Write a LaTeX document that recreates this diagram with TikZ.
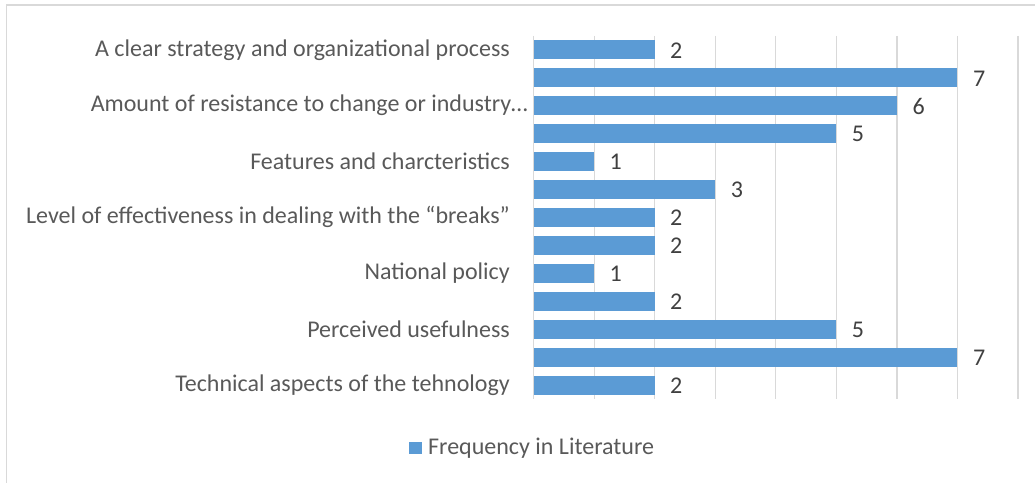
\documentclass[tikz,border=0pt]{standalone}
\usepackage{fontspec}
\setmainfont{Carlito}
\usepackage{xcolor}
\usepackage{tikz}
\definecolor{barblue}{RGB}{91, 155, 213}
\definecolor{gridgray}{RGB}{217, 217, 217}
\definecolor{labgray}{RGB}{89, 89, 89}
\definecolor{numgray}{RGB}{64, 64, 64}

\begin{document}
\begin{tikzpicture}[x = 1pt, y = -1pt,
    catlab/.style = {anchor = east, inner sep = 0pt, text = labgray, font = \fontsize{24}{28}\selectfont},
    numlab/.style = {anchor = west, inner sep = 0pt, text = numgray, font = \fontsize{24}{28}\selectfont},
    bar/.style = {fill = barblue, draw = none}]
			\useasboundingbox (0,0) rectangle (1035,482);
			\draw[gridgray, line width = 1.5pt] (6.6,498) -- (6.6,5) -- (1050,5);
			% gridlines
			\foreach \gx in {533.5, 594.1, 654.6, 715.2, 775.7, 836.3, 896.9, 957.4, 1018}
				\draw[gridgray, line width = 1.2pt] (\gx,35.8) -- (\gx,398.9);
			% bars, top to bottom
			\fill[bar] (533.5,40.3) rectangle (654.6,59.3);
			\fill[bar] (533.5,68.2) rectangle (957.4,87.2);
			\fill[bar] (533.5,96.1) rectangle (896.9,115.1);
			\fill[bar] (533.5,124.1) rectangle (836.3,143.1);
			\fill[bar] (533.5,152.0) rectangle (594.1,171.0);
			\fill[bar] (533.5,179.9) rectangle (715.2,198.9);
			\fill[bar] (533.5,207.9) rectangle (654.6,226.9);
			\fill[bar] (533.5,235.8) rectangle (654.6,254.8);
			\fill[bar] (533.5,263.7) rectangle (594.1,282.7);
			\fill[bar] (533.5,291.7) rectangle (654.6,310.7);
			\fill[bar] (533.5,319.6) rectangle (836.3,338.6);
			\fill[bar] (533.5,347.5) rectangle (957.4,366.5);
			\fill[bar] (533.5,375.5) rectangle (654.6,394.5);
			% values
			\node (v1) at (670,50.5) [numlab] {2};
			\node (v2) at (972.8,78.4) [numlab] {7};
			\node (v3) at (912.3,106.3) [numlab] {6};
			\node (v4) at (851.7,134.3) [numlab] {5};
			\node (v5) at (609.5,162.2) [numlab] {1};
			\node (v6) at (730.6,190.1) [numlab] {3};
			\node (v7) at (670,218.1) [numlab] {2};
			\node (v8) at (670,246.0) [numlab] {2};
			\node (v9) at (609.5,273.9) [numlab] {1};
			\node (v10) at (670,301.9) [numlab] {2};
			\node (v11) at (851.7,329.8) [numlab] {5};
			\node (v12) at (972.8,357.7) [numlab] {7};
			\node (v13) at (670,385.7) [numlab] {2};
			% category labels
			\node (c1) at (510,49.8) [catlab] {A clear strategy and organizational process};
			\node (c3) at (528,105.6) [catlab] {Amount of resistance to change or industry…};
			\node (c5) at (510,161.5) [catlab] {Features and charcteristics};
			\node (c7) at (510,217.4) [catlab] {Level of effectiveness in dealing with the “breaks”};
			\node (c9) at (510,273.2) [catlab] {National policy};
			\node (c11) at (510,329.1) [catlab] {Perceived usefulness};
			\node (c13) at (510,385.0) [catlab] {Technical aspects of the tehnology};
			% legend
			\fill[barblue] (409,441.8) rectangle (421.5,454.3);
			\node (leg) at (428,448) [numlab, text = labgray] {Frequency in Literature};
			\end{tikzpicture}
\end{document}
